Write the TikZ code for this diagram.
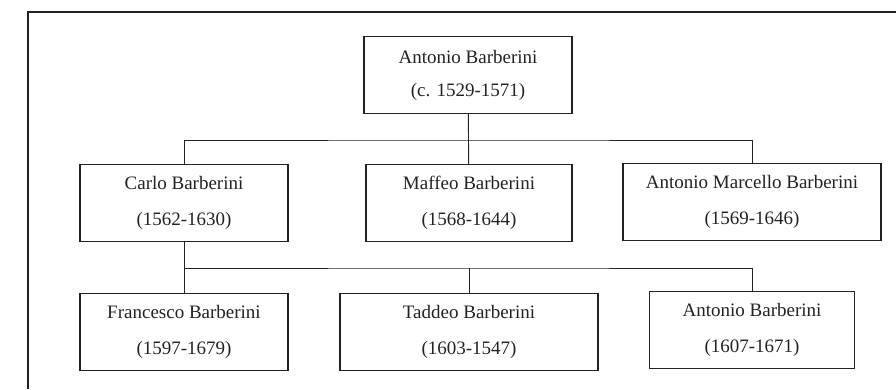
\documentclass[tikz,border=0pt]{standalone}
\usepackage{fontspec}
\setmainfont{Liberation Serif}
\usepackage{tikz}
\usepackage{xcolor}
\usetikzlibrary{positioning}

\definecolor{inkgray}{HTML}{222222}

\tikzset{
    person/.style={draw=inkgray, line width=1.3pt, text=inkgray,
        minimum width=208pt, minimum height=77pt, align=center,
        inner sep=0pt, font=\fontsize{19}{36}\selectfont},
    wideperson/.style={person, minimum width=258pt},
    link/.style={draw=inkgray, line width=0.9pt}
}

\begin{document}
\begin{tikzpicture}[x=1pt, y=-1pt]
    \useasboundingbox (0,0) rectangle (896,389);

    % outer frame
    \draw[inkgray, line width=1.4pt] (28,389) -- (28,12) -- (896,12);

    \node[person, font=\fontsize{19}{33}\selectfont] (antonio) at (468,75)
        {Antonio Barberini\\(c. 1529-1571)};

    \node[person] (carlo) at (184,203)
        {Carlo Barberini\\(1562-1630)};
    \node[person, minimum width=206pt] (maffeo) at (469,203)
        {Maffeo Barberini\\(1568-1644)};
    \node[wideperson] (marcello) at (752,202)
        {Antonio Marcello Barberini\\(1569-1646)};

    \node[person] (francesco) at (184,332)
        {Francesco Barberini\\(1597-1679)};
    \node[wideperson] (taddeo) at (469,332)
        {Taddeo Barberini\\(1603-1547)};
    \node[person, minimum width=205pt] (antoniojr) at (752,330)
        {Antonio Barberini\\(1607-1671)};

    \coordinate (fork1) at (469,140);
    \coordinate (fork2) at (469,268);

    \draw[link] (antonio) -- (maffeo);
    \draw[link] (carlo.north) |- (fork1) -| (marcello.north);

    \draw[link] (carlo) -- (francesco);
    \draw[link] (francesco.north) |- (fork2) -| (antoniojr.north);
    \draw[link] (fork2) -- (taddeo.north);
\end{tikzpicture}
\end{document}
